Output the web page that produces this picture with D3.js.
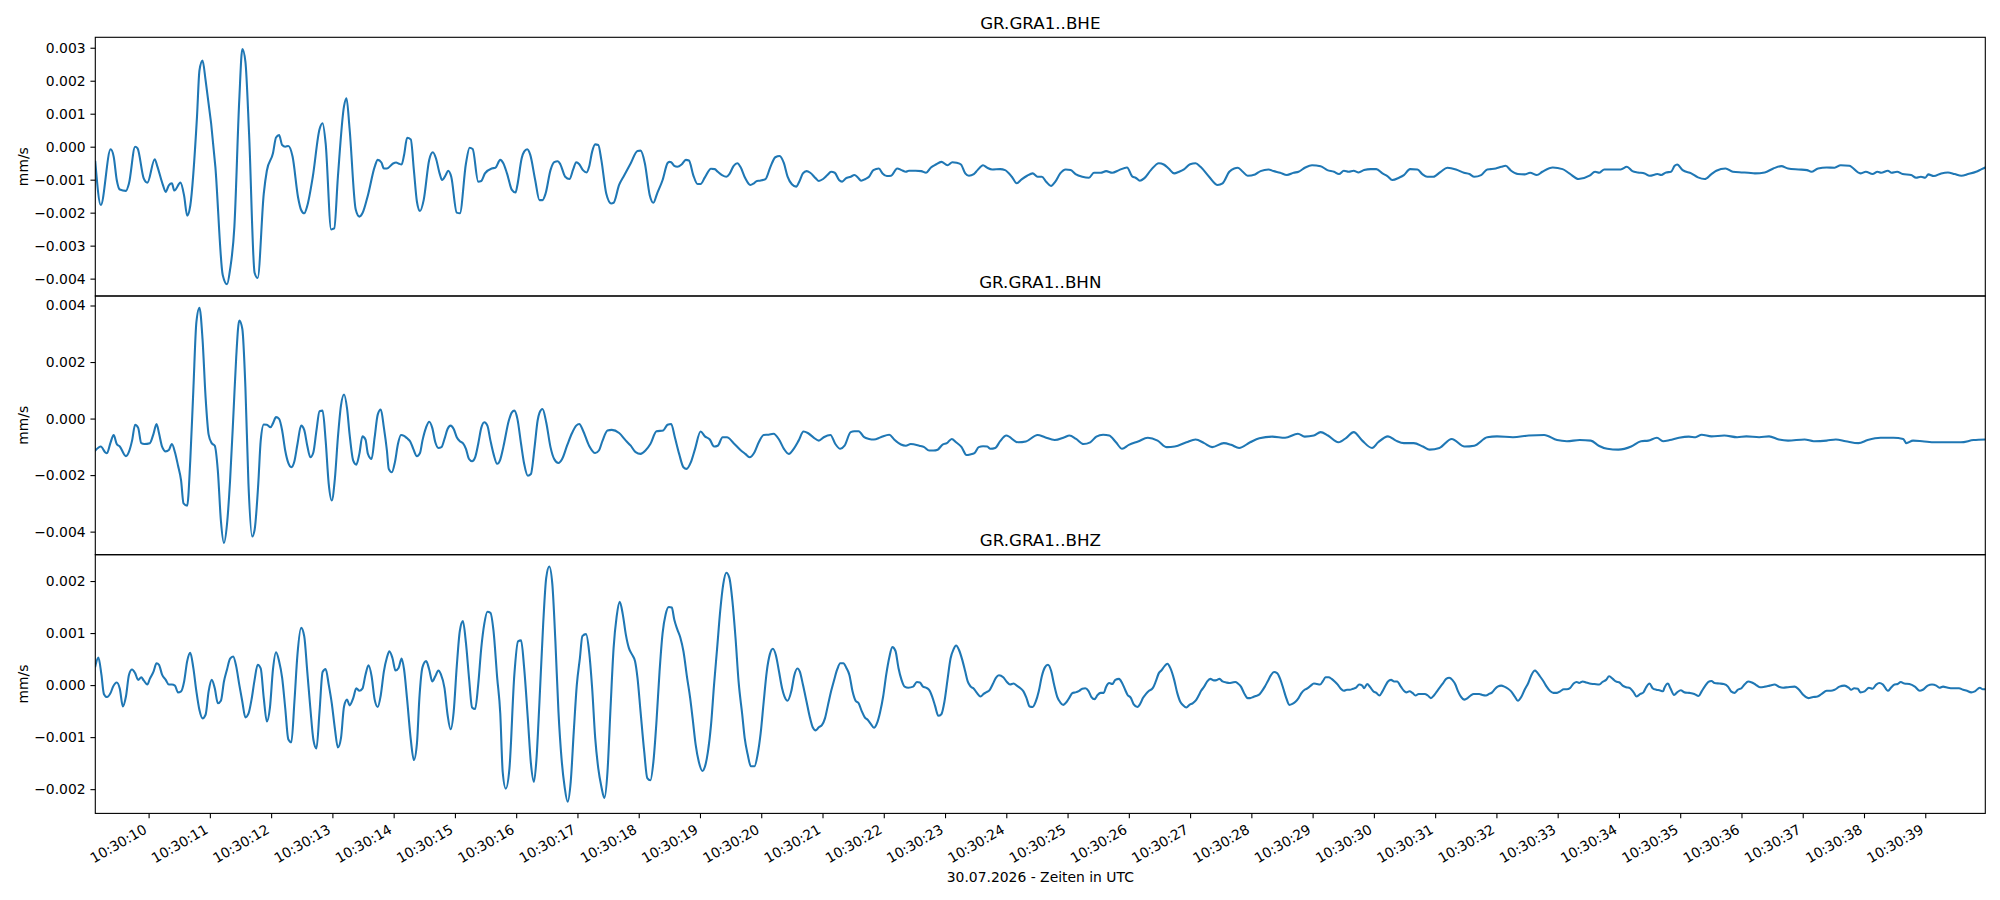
<!DOCTYPE html>
<html>
<head>
<meta charset="utf-8">
<script src="https://cdn.jsdelivr.net/npm/d3@7"></script>
<style>
  html, body { margin: 0; padding: 0; background: #fff; }
  svg { display: block; font-family: "DejaVu Sans", sans-serif; }
</style>
</head>
<body>
<svg id="chart" width="2000" height="900"></svg>
<script>
// ---------------- DATA ----------------
// Trace start: 30.07.2026 10:30:00 UTC; times are seconds after 10:30:00
const dateLabel = "30.07.2026 - Zeiten in UTC";
const channels = ["GR.GRA1..BHE", "GR.GRA1..BHN", "GR.GRA1..BHZ"];
const unitLabel = "mm/s";
const valueUnit = 0.001; // values below are in 0.001 mm/s
const timeStart = 9.13, timeEnd = 39.98;

// BHE: [seconds, value x 0.001 mm/s]
const bhe = [
[9.13,-0.46],[9.22,-1.77],[9.38,-0.08],[9.43,-0.30],[9.48,-1.01],[9.53,-1.30],[9.63,-1.34],[9.68,-1.11],[9.78,0.00],[9.82,-0.05],
[9.92,-0.96],[9.98,-1.09],[10.10,-0.38],[10.14,-0.58],[10.23,-1.14],[10.28,-1.37],[10.33,-1.17],[10.38,-1.11],[10.42,-1.33],[10.52,-1.09],
[10.58,-1.49],[10.63,-2.09],[10.68,-1.79],[10.79,0.91],[10.83,2.31],[10.88,2.61],[10.93,2.02],[11.09,-0.61],[11.21,-3.89],[11.28,-4.17],
[11.33,-3.72],[11.40,-2.43],[11.48,1.42],[11.53,2.96],[11.58,2.58],[11.64,0.40],[11.73,-3.82],[11.78,-3.98],[11.88,-1.42],[11.93,-0.73],
[12.03,-0.20],[12.08,0.28],[12.13,0.35],[12.18,0.05],[12.23,0.00],[12.28,0.02],[12.35,-0.30],[12.44,-1.54],[12.49,-1.92],[12.54,-2.02],
[12.59,-1.79],[12.68,-0.91],[12.79,0.53],[12.84,0.71],[12.89,0.10],[12.98,-2.51],[13.03,-2.48],[13.09,-0.91],[13.19,1.23],[13.23,1.47],
[13.28,0.56],[13.38,-1.90],[13.44,-2.12],[13.49,-2.02],[13.58,-1.47],[13.69,-0.61],[13.74,-0.40],[13.80,-0.48],[13.84,-0.66],[13.89,-0.66],
[13.99,-0.51],[14.04,-0.48],[14.08,-0.51],[14.13,-0.54],[14.17,-0.25],[14.22,0.27],[14.28,0.22],[14.33,-0.71],[14.38,-1.67],[14.43,-1.95],
[14.49,-1.62],[14.58,-0.40],[14.64,-0.17],[14.69,-0.35],[14.75,-0.81],[14.79,-1.01],[14.85,-0.86],[14.89,-0.73],[14.94,-0.91],[15.03,-2.00],
[15.08,-2.02],[15.18,-0.51],[15.24,-0.03],[15.29,-0.07],[15.38,-1.06],[15.43,-1.04],[15.49,-0.81],[15.60,-0.66],[15.66,-0.64],[15.74,-0.40],
[15.79,-0.50],[15.85,-0.81],[15.93,-1.31],[15.99,-1.39],[16.02,-1.16],[16.09,-0.35],[16.13,-0.15],[16.18,-0.08],[16.23,-0.25],[16.31,-1.01],
[16.38,-1.62],[16.43,-1.62],[16.48,-1.42],[16.56,-0.71],[16.62,-0.47],[16.68,-0.44],[16.72,-0.53],[16.80,-0.91],[16.87,-0.98],[16.93,-0.69],
[16.98,-0.47],[17.03,-0.53],[17.09,-0.71],[17.15,-0.78],[17.19,-0.61],[17.24,-0.15],[17.29,0.07],[17.34,0.05],[17.39,-0.40],[17.47,-1.42],
[17.55,-1.72],[17.59,-1.70],[17.68,-1.16],[17.76,-0.88],[17.87,-0.50],[17.98,-0.13],[18.03,-0.12],[18.10,-0.50],[18.18,-1.47],[18.24,-1.70],
[18.30,-1.42],[18.39,-1.01],[18.47,-0.50],[18.50,-0.46],[18.53,-0.47],[18.58,-0.58],[18.63,-0.61],[18.70,-0.54],[18.77,-0.40],[18.82,-0.42],
[18.89,-0.86],[18.96,-1.13],[19.01,-1.13],[19.08,-0.93],[19.18,-0.67],[19.24,-0.68],[19.29,-0.76],[19.36,-0.86],[19.43,-0.91],[19.48,-0.83],
[19.55,-0.58],[19.61,-0.50],[19.66,-0.61],[19.74,-0.96],[19.82,-1.16],[19.88,-1.11],[19.93,-1.04],[19.98,-1.03],[20.07,-0.98],[20.15,-0.61],
[20.23,-0.32],[20.30,-0.28],[20.37,-0.50],[20.43,-0.91],[20.50,-1.14],[20.57,-1.21],[20.62,-1.06],[20.68,-0.81],[20.74,-0.74],[20.80,-0.79],
[20.89,-0.96],[20.94,-1.04],[21.01,-0.98],[21.08,-0.86],[21.14,-0.76],[21.20,-0.79],[21.27,-1.01],[21.32,-1.06],[21.38,-0.96],[21.46,-0.91],
[21.52,-0.86],[21.58,-0.94],[21.63,-1.03],[21.70,-0.98],[21.76,-0.91],[21.83,-0.71],[21.92,-0.66],[21.98,-0.81],[22.05,-0.89],[22.12,-0.88],
[22.22,-0.66],[22.29,-0.71],[22.36,-0.76],[22.41,-0.73],[22.52,-0.73],[22.61,-0.74],[22.69,-0.79],[22.77,-0.63],[22.85,-0.54],[22.94,-0.46],
[23.04,-0.56],[23.12,-0.47],[23.19,-0.49],[23.26,-0.54],[23.33,-0.81],[23.39,-0.88],[23.47,-0.83],[23.53,-0.71],[23.62,-0.56],[23.69,-0.64],
[23.77,-0.69],[23.90,-0.68],[23.98,-0.71],[24.09,-0.91],[24.17,-1.11],[24.25,-0.99],[24.34,-0.88],[24.43,-0.81],[24.51,-0.91],[24.58,-0.91],
[24.65,-1.06],[24.73,-1.19],[24.80,-1.06],[24.88,-0.81],[24.97,-0.69],[25.05,-0.71],[25.13,-0.83],[25.24,-0.91],[25.35,-0.94],[25.43,-0.79],
[25.54,-0.79],[25.63,-0.74],[25.73,-0.79],[25.84,-0.71],[25.97,-0.63],[26.06,-0.91],[26.11,-0.94],[26.18,-1.03],[26.25,-0.96],[26.36,-0.71],
[26.49,-0.50],[26.57,-0.54],[26.65,-0.66],[26.74,-0.81],[26.82,-0.76],[26.90,-0.69],[27.00,-0.53],[27.09,-0.50],[27.17,-0.61],[27.31,-0.91],
[27.45,-1.16],[27.53,-1.11],[27.64,-0.76],[27.72,-0.66],[27.78,-0.64],[27.86,-0.76],[27.94,-0.88],[28.06,-0.84],[28.15,-0.74],[28.28,-0.69],
[28.36,-0.74],[28.47,-0.79],[28.58,-0.86],[28.69,-0.79],[28.77,-0.76],[28.88,-0.63],[28.99,-0.56],[29.13,-0.59],[29.24,-0.71],[29.35,-0.76],
[29.43,-0.83],[29.51,-0.73],[29.59,-0.76],[29.67,-0.73],[29.75,-0.78],[29.84,-0.71],[29.95,-0.68],[30.04,-0.68],[30.14,-0.81],[30.22,-0.89],
[30.30,-1.01],[30.41,-0.94],[30.49,-0.86],[30.59,-0.68],[30.71,-0.69],[30.79,-0.83],[30.87,-0.91],[30.97,-0.91],[31.09,-0.76],[31.20,-0.64],
[31.34,-0.69],[31.47,-0.79],[31.56,-0.83],[31.64,-0.91],[31.75,-0.86],[31.85,-0.69],[31.91,-0.68],[31.99,-0.66],[32.08,-0.61],[32.15,-0.58],
[32.24,-0.73],[32.35,-0.83],[32.46,-0.84],[32.55,-0.79],[32.66,-0.86],[32.75,-0.76],[32.92,-0.63],[33.08,-0.68],[33.19,-0.81],[33.34,-0.98],
[33.52,-0.88],[33.61,-0.76],[33.68,-0.79],[33.76,-0.69],[33.87,-0.69],[34.03,-0.69],[34.13,-0.61],[34.22,-0.74],[34.31,-0.78],[34.42,-0.81],
[34.50,-0.88],[34.63,-0.83],[34.69,-0.86],[34.77,-0.78],[34.85,-0.76],[34.91,-0.58],[34.95,-0.54],[35.04,-0.71],[35.18,-0.81],[35.29,-0.93],
[35.40,-0.98],[35.51,-0.83],[35.59,-0.73],[35.74,-0.66],[35.86,-0.76],[36.00,-0.78],[36.11,-0.79],[36.22,-0.81],[36.38,-0.78],[36.52,-0.66],
[36.65,-0.59],[36.76,-0.66],[36.93,-0.69],[37.07,-0.71],[37.14,-0.76],[37.25,-0.66],[37.39,-0.63],[37.52,-0.64],[37.62,-0.56],[37.76,-0.58],
[37.94,-0.81],[38.03,-0.76],[38.14,-0.83],[38.22,-0.76],[38.28,-0.79],[38.39,-0.73],[38.45,-0.79],[38.54,-0.76],[38.63,-0.83],[38.77,-0.86],
[38.85,-0.94],[38.93,-0.91],[39.00,-0.94],[39.05,-0.84],[39.14,-0.89],[39.26,-0.81],[39.37,-0.78],[39.48,-0.83],[39.59,-0.88],[39.70,-0.83],
[39.83,-0.76],[39.92,-0.68],[39.98,-0.63]
];

// BHN: [seconds, value x 0.001 mm/s]
const bhn = [
[9.13,-1.13],[9.22,-0.99],[9.29,-1.19],[9.32,-1.23],[9.38,-0.84],[9.43,-0.58],[9.48,-0.90],[9.53,-0.99],[9.63,-1.33],[9.68,-1.17],
[9.73,-0.78],[9.78,-0.22],[9.83,-0.33],[9.88,-0.87],[9.93,-0.90],[10.02,-0.87],[10.08,-0.54],[10.13,-0.19],[10.17,-0.52],[10.22,-0.99],
[10.28,-1.16],[10.33,-1.11],[10.38,-0.90],[10.43,-1.19],[10.48,-1.66],[10.53,-2.19],[10.57,-3.00],[10.63,-3.08],[10.68,-1.49],[10.73,0.99],
[10.78,3.41],[10.83,3.92],[10.88,2.82],[10.93,0.76],[10.98,-0.57],[11.03,-0.87],[11.08,-0.96],[11.13,-1.84],[11.18,-3.61],[11.23,-4.40],
[11.28,-3.73],[11.33,-2.19],[11.39,0.40],[11.43,2.17],[11.48,3.47],[11.53,3.17],[11.58,1.11],[11.63,-2.31],[11.69,-4.17],[11.73,-3.94],
[11.79,-2.31],[11.83,-0.78],[11.88,-0.21],[11.93,-0.22],[11.99,-0.31],[12.03,-0.17],[12.08,0.05],[12.13,-0.01],[12.18,-0.42],[12.23,-1.13],
[12.28,-1.57],[12.33,-1.72],[12.38,-1.51],[12.43,-0.90],[12.49,-0.25],[12.54,-0.40],[12.59,-0.96],[12.64,-1.37],[12.69,-1.19],[12.74,-0.42],
[12.79,0.26],[12.84,0.28],[12.89,-0.78],[12.94,-2.31],[12.99,-2.90],[13.04,-2.14],[13.09,-0.66],[13.14,0.46],[13.19,0.85],[13.24,0.34],
[13.28,-0.54],[13.34,-1.49],[13.39,-1.63],[13.44,-1.25],[13.49,-0.63],[13.54,-0.74],[13.58,-1.25],[13.64,-1.43],[13.69,-0.66],[13.74,0.14],
[13.79,0.32],[13.84,-0.31],[13.89,-1.13],[13.92,-1.78],[13.97,-1.90],[14.02,-1.55],[14.07,-0.90],[14.12,-0.58],[14.17,-0.61],[14.22,-0.70],
[14.27,-0.81],[14.32,-1.07],[14.38,-1.33],[14.43,-1.22],[14.47,-0.78],[14.53,-0.31],[14.58,-0.11],[14.63,-0.33],[14.68,-0.84],[14.73,-1.04],
[14.78,-1.01],[14.83,-0.72],[14.88,-0.37],[14.93,-0.25],[14.98,-0.37],[15.03,-0.66],[15.08,-0.80],[15.13,-0.87],[15.18,-1.07],[15.23,-1.43],
[15.28,-1.51],[15.33,-1.37],[15.38,-0.90],[15.43,-0.33],[15.48,-0.13],[15.53,-0.25],[15.58,-0.78],[15.63,-1.25],[15.69,-1.60],[15.74,-1.45],
[15.79,-1.01],[15.88,-0.07],[15.93,0.22],[15.97,0.28],[16.02,-0.01],[16.08,-0.90],[16.13,-1.60],[16.19,-2.02],[16.24,-1.96],[16.30,-1.01],
[16.35,-0.07],[16.38,0.20],[16.43,0.34],[16.49,-0.13],[16.56,-1.01],[16.62,-1.43],[16.69,-1.57],[16.75,-1.43],[16.83,-0.96],[16.91,-0.52],
[16.98,-0.25],[17.03,-0.19],[17.09,-0.42],[17.19,-0.96],[17.29,-1.22],[17.35,-1.13],[17.41,-0.78],[17.49,-0.42],[17.56,-0.40],[17.68,-0.51],
[17.79,-0.78],[17.87,-0.96],[17.95,-1.19],[18.03,-1.25],[18.11,-1.13],[18.19,-0.90],[18.29,-0.45],[18.40,-0.42],[18.47,-0.22],[18.53,-0.19],
[18.59,-0.66],[18.66,-1.25],[18.73,-1.72],[18.78,-1.78],[18.85,-1.55],[18.92,-1.07],[19.01,-0.46],[19.08,-0.63],[19.16,-0.74],[19.23,-0.99],
[19.29,-0.96],[19.37,-0.66],[19.44,-0.66],[19.55,-0.87],[19.66,-1.11],[19.74,-1.25],[19.81,-1.37],[19.89,-1.19],[19.96,-0.84],[20.04,-0.58],
[20.12,-0.57],[20.20,-0.54],[20.29,-0.74],[20.37,-1.07],[20.45,-1.25],[20.53,-1.07],[20.61,-0.78],[20.69,-0.46],[20.76,-0.51],[20.86,-0.68],
[20.94,-0.78],[21.02,-0.66],[21.13,-0.58],[21.21,-0.90],[21.29,-1.07],[21.36,-0.96],[21.46,-0.48],[21.52,-0.45],[21.59,-0.45],[21.68,-0.66],
[21.76,-0.72],[21.84,-0.74],[21.95,-0.66],[22.09,-0.57],[22.17,-0.74],[22.28,-0.92],[22.36,-0.96],[22.44,-0.90],[22.58,-0.96],[22.66,-1.01],
[22.74,-1.13],[22.81,-1.13],[22.88,-1.10],[22.96,-0.92],[23.03,-0.87],[23.11,-0.72],[23.18,-0.84],[23.27,-1.01],[23.35,-1.29],[23.41,-1.27],
[23.48,-1.22],[23.55,-1.01],[23.62,-0.98],[23.69,-0.99],[23.74,-1.07],[23.82,-1.04],[23.90,-0.80],[24.00,-0.60],[24.19,-0.84],[24.32,-0.81],
[24.51,-0.58],[24.63,-0.66],[24.79,-0.76],[24.95,-0.66],[25.03,-0.60],[25.14,-0.72],[25.26,-0.90],[25.37,-0.84],[25.47,-0.64],[25.58,-0.57],
[25.68,-0.60],[25.79,-0.84],[25.89,-1.07],[26.00,-0.93],[26.15,-0.81],[26.31,-0.68],[26.47,-0.78],[26.62,-1.01],[26.75,-0.99],[26.94,-0.84],
[27.09,-0.74],[27.23,-0.87],[27.36,-1.01],[27.55,-0.87],[27.67,-0.93],[27.80,-1.04],[27.98,-0.84],[28.13,-0.70],[28.34,-0.64],[28.55,-0.68],
[28.76,-0.54],[28.87,-0.64],[29.02,-0.60],[29.13,-0.48],[29.25,-0.60],[29.42,-0.84],[29.55,-0.68],[29.67,-0.48],[29.81,-0.78],[29.97,-1.04],
[30.07,-0.84],[30.23,-0.63],[30.36,-0.78],[30.49,-0.87],[30.65,-0.87],[30.80,-0.99],[30.91,-1.10],[31.07,-1.04],[31.27,-0.72],[31.48,-0.99],
[31.64,-0.96],[31.85,-0.66],[32.01,-0.63],[32.27,-0.66],[32.53,-0.60],[32.78,-0.58],[32.99,-0.76],[33.15,-0.80],[33.36,-0.76],[33.54,-0.78],
[33.67,-0.96],[33.81,-1.07],[33.99,-1.10],[34.20,-0.99],[34.36,-0.80],[34.48,-0.78],[34.62,-0.68],[34.72,-0.80],[34.83,-0.76],[34.98,-0.68],
[35.14,-0.64],[35.25,-0.66],[35.35,-0.57],[35.51,-0.63],[35.72,-0.60],[35.93,-0.66],[36.08,-0.63],[36.29,-0.66],[36.45,-0.63],[36.61,-0.74],
[36.76,-0.78],[37.03,-0.74],[37.18,-0.80],[37.39,-0.78],[37.54,-0.74],[37.70,-0.80],[37.91,-0.87],[38.06,-0.76],[38.27,-0.68],[38.48,-0.68],
[38.64,-0.72],[38.69,-0.87],[38.80,-0.78],[38.95,-0.80],[39.16,-0.84],[39.37,-0.84],[39.58,-0.84],[39.79,-0.76],[39.98,-0.74]
];

// BHZ: [seconds, value x 0.001 mm/s]
const bhz = [
[9.13,0.36],[9.18,0.53],[9.23,0.20],[9.27,-0.17],[9.32,-0.23],[9.38,-0.15],[9.42,-0.03],[9.48,0.05],[9.53,-0.07],[9.58,-0.41],
[9.63,-0.22],[9.68,0.20],[9.73,0.30],[9.78,0.23],[9.83,0.10],[9.88,0.15],[9.92,0.09],[9.98,0.01],[10.02,0.12],[10.08,0.26],
[10.13,0.42],[10.17,0.39],[10.22,0.20],[10.28,0.10],[10.33,0.01],[10.38,0.01],[10.43,-0.01],[10.48,-0.14],[10.53,-0.12],[10.58,0.07],
[10.63,0.46],[10.68,0.62],[10.73,0.33],[10.78,-0.12],[10.83,-0.48],[10.88,-0.64],[10.93,-0.57],[10.98,-0.12],[11.03,0.10],[11.08,-0.06],
[11.13,-0.35],[11.18,-0.30],[11.23,0.07],[11.28,0.30],[11.33,0.51],[11.38,0.55],[11.43,0.36],[11.48,0.01],[11.53,-0.32],[11.58,-0.62],
[11.63,-0.55],[11.68,-0.28],[11.73,0.10],[11.78,0.39],[11.83,0.32],[11.88,-0.25],[11.93,-0.70],[11.98,-0.44],[12.03,0.30],[12.08,0.63],
[12.13,0.46],[12.18,0.14],[12.23,-0.44],[12.28,-1.04],[12.33,-1.10],[12.38,-0.32],[12.43,0.59],[12.49,1.10],[12.54,0.94],[12.59,0.26],
[12.64,-0.44],[12.69,-1.05],[12.74,-1.22],[12.79,-0.51],[12.84,0.25],[12.89,0.31],[12.94,0.01],[12.99,-0.35],[13.04,-0.83],[13.09,-1.20],
[13.14,-1.02],[13.19,-0.41],[13.24,-0.28],[13.28,-0.39],[13.34,-0.25],[13.39,-0.06],[13.44,-0.11],[13.49,-0.07],[13.54,0.20],[13.59,0.38],
[13.64,0.17],[13.69,-0.28],[13.74,-0.42],[13.79,-0.19],[13.84,0.26],[13.89,0.53],[13.93,0.65],[13.98,0.52],[14.03,0.28],[14.08,0.33],
[14.13,0.51],[14.17,0.30],[14.22,-0.28],[14.28,-1.05],[14.33,-1.44],[14.38,-1.12],[14.42,-0.25],[14.47,0.34],[14.53,0.46],[14.58,0.30],
[14.63,0.07],[14.68,0.17],[14.73,0.28],[14.77,0.21],[14.83,-0.06],[14.88,-0.57],[14.93,-0.85],[14.98,-0.51],[15.03,0.36],[15.08,1.04],
[15.13,1.23],[15.18,0.81],[15.23,0.14],[15.28,-0.43],[15.33,-0.46],[15.38,0.01],[15.43,0.71],[15.48,1.18],[15.53,1.41],[15.58,1.39],
[15.63,1.04],[15.69,0.14],[15.74,-0.54],[15.78,-1.67],[15.83,-1.99],[15.89,-1.60],[15.97,0.20],[16.03,0.84],[16.08,0.86],[16.13,0.33],
[16.19,-0.64],[16.24,-1.50],[16.29,-1.86],[16.33,-1.44],[16.38,-0.32],[16.44,1.16],[16.49,2.06],[16.54,2.28],[16.59,1.94],[16.64,0.84],
[16.69,-0.51],[16.74,-1.41],[16.79,-1.95],[16.84,-2.24],[16.89,-1.86],[16.94,-0.89],[16.99,0.01],[17.04,0.52],[17.08,0.94],[17.14,0.98],
[17.19,0.65],[17.24,-0.06],[17.29,-1.02],[17.34,-1.60],[17.39,-1.95],[17.44,-2.17],[17.49,-1.67],[17.54,-0.44],[17.59,0.71],[17.64,1.32],
[17.69,1.60],[17.74,1.36],[17.79,0.97],[17.84,0.71],[17.89,0.59],[17.94,0.46],[17.98,0.14],[18.03,-0.51],[18.09,-1.28],[18.14,-1.79],
[18.19,-1.83],[18.24,-1.47],[18.29,-0.70],[18.34,0.26],[18.39,1.00],[18.44,1.36],[18.49,1.50],[18.54,1.49],[18.58,1.26],[18.63,1.07],
[18.68,0.91],[18.73,0.65],[18.79,0.14],[18.84,-0.25],[18.88,-0.64],[18.93,-1.15],[18.98,-1.47],[19.04,-1.65],[19.08,-1.57],[19.13,-1.28],
[19.18,-0.77],[19.23,0.01],[19.28,0.71],[19.33,1.42],[19.38,1.94],[19.43,2.16],[19.48,2.06],[19.53,1.61],[19.58,0.91],[19.63,0.07],
[19.69,-0.57],[19.73,-1.02],[19.78,-1.34],[19.83,-1.56],[19.89,-1.56],[19.94,-1.34],[19.99,-0.93],[20.04,-0.32],[20.09,0.26],[20.14,0.59],
[20.19,0.70],[20.24,0.57],[20.29,0.26],[20.34,-0.06],[20.38,-0.22],[20.43,-0.30],[20.49,-0.12],[20.54,0.19],[20.59,0.32],[20.63,0.26],
[20.68,0.01],[20.74,-0.32],[20.79,-0.60],[20.84,-0.81],[20.89,-0.87],[20.94,-0.81],[20.99,-0.77],[21.04,-0.64],[21.09,-0.38],[21.14,-0.12],
[21.19,0.10],[21.24,0.30],[21.29,0.42],[21.34,0.42],[21.39,0.33],[21.44,0.19],[21.49,-0.12],[21.54,-0.30],[21.59,-0.35],[21.64,-0.50],
[21.69,-0.62],[21.74,-0.67],[21.79,-0.75],[21.84,-0.82],[21.89,-0.73],[21.94,-0.52],[21.99,-0.22],[22.04,0.20],[22.09,0.53],[22.14,0.73],
[22.19,0.66],[22.24,0.33],[22.29,0.10],[22.34,-0.03],[22.40,-0.05],[22.48,-0.03],[22.54,0.06],[22.59,0.05],[22.64,-0.03],[22.69,-0.05],
[22.74,-0.09],[22.79,-0.22],[22.84,-0.41],[22.89,-0.59],[22.94,-0.56],[22.99,-0.32],[23.04,0.10],[23.09,0.51],[23.14,0.69],[23.18,0.76],
[23.23,0.67],[23.28,0.49],[23.33,0.26],[23.37,0.07],[23.42,-0.03],[23.47,-0.07],[23.52,-0.15],[23.58,-0.22],[23.63,-0.17],[23.67,-0.14],
[23.73,-0.09],[23.78,0.02],[23.83,0.14],[23.88,0.19],[23.95,0.15],[24.01,0.06],[24.06,0.01],[24.12,0.03],[24.17,-0.01],[24.23,-0.06],
[24.28,-0.12],[24.33,-0.25],[24.38,-0.41],[24.43,-0.42],[24.48,-0.32],[24.53,-0.12],[24.58,0.17],[24.63,0.34],[24.68,0.39],[24.73,0.28],
[24.78,0.01],[24.83,-0.22],[24.88,-0.33],[24.93,-0.38],[24.98,-0.33],[25.03,-0.24],[25.08,-0.15],[25.13,-0.14],[25.19,-0.11],[25.24,-0.07],
[25.29,-0.06],[25.34,-0.11],[25.39,-0.23],[25.44,-0.27],[25.49,-0.19],[25.54,-0.15],[25.59,-0.15],[25.63,-0.03],[25.68,0.04],[25.73,0.02],
[25.78,0.10],[25.84,0.12],[25.89,0.04],[25.94,-0.09],[25.98,-0.19],[26.03,-0.24],[26.08,-0.37],[26.14,-0.42],[26.19,-0.35],[26.23,-0.25],
[26.28,-0.17],[26.33,-0.11],[26.39,-0.06],[26.44,0.07],[26.49,0.23],[26.53,0.28],[26.58,0.36],[26.63,0.41],[26.68,0.32],[26.74,0.10],
[26.79,-0.15],[26.84,-0.32],[26.88,-0.38],[26.94,-0.43],[26.99,-0.38],[27.04,-0.35],[27.09,-0.30],[27.14,-0.20],[27.18,-0.11],[27.23,-0.03],
[27.28,0.07],[27.33,0.12],[27.39,0.09],[27.44,0.10],[27.48,0.12],[27.53,0.07],[27.59,0.05],[27.64,0.04],[27.69,0.05],[27.74,0.06],
[27.78,0.03],[27.83,-0.03],[27.88,-0.15],[27.94,-0.25],[27.98,-0.25],[28.03,-0.23],[28.07,-0.21],[28.12,-0.19],[28.17,-0.12],[28.22,-0.03],
[28.27,0.08],[28.32,0.19],[28.37,0.25],[28.42,0.23],[28.47,0.12],[28.52,-0.06],[28.57,-0.25],[28.62,-0.38],[28.67,-0.36],[28.72,-0.32],
[28.77,-0.25],[28.82,-0.15],[28.87,-0.09],[28.92,-0.06],[28.97,-0.01],[29.02,0.03],[29.07,0.02],[29.12,0.01],[29.17,0.08],[29.21,0.15],
[29.26,0.15],[29.31,0.12],[29.36,0.07],[29.41,0.01],[29.46,-0.07],[29.51,-0.11],[29.56,-0.09],[29.61,-0.09],[29.66,-0.07],[29.71,-0.05],
[29.76,0.01],[29.81,-0.01],[29.84,-0.06],[29.89,0.02],[29.94,-0.04],[29.99,-0.12],[30.04,-0.15],[30.09,-0.20],[30.14,-0.12],[30.19,-0.01],
[30.23,0.07],[30.28,0.10],[30.33,0.07],[30.38,0.07],[30.44,-0.03],[30.49,-0.11],[30.53,-0.14],[30.58,-0.12],[30.63,-0.15],[30.68,-0.20],
[30.73,-0.17],[30.78,-0.17],[30.83,-0.17],[30.88,-0.20],[30.93,-0.25],[30.98,-0.20],[31.03,-0.12],[31.08,-0.04],[31.13,0.04],[31.18,0.12],
[31.23,0.14],[31.28,0.10],[31.33,0.01],[31.37,-0.11],[31.42,-0.22],[31.48,-0.28],[31.53,-0.25],[31.58,-0.20],[31.63,-0.17],[31.68,-0.17],
[31.72,-0.17],[31.77,-0.19],[31.83,-0.20],[31.88,-0.17],[31.93,-0.14],[31.98,-0.07],[32.02,-0.03],[32.08,-0.01],[32.13,-0.03],[32.19,-0.07],
[32.24,-0.12],[32.30,-0.22],[32.35,-0.30],[32.41,-0.22],[32.46,-0.09],[32.52,0.04],[32.57,0.19],[32.63,0.28],[32.66,0.25],[32.71,0.17],
[32.77,0.07],[32.82,-0.03],[32.88,-0.12],[32.93,-0.15],[32.99,-0.15],[33.04,-0.12],[33.10,-0.08],[33.15,-0.08],[33.20,-0.06],[33.26,0.03],
[33.31,0.06],[33.35,0.04],[33.41,0.07],[33.46,0.05],[33.52,0.03],[33.60,0.02],[33.68,0.01],[33.73,0.06],[33.79,0.10],[33.84,0.17],
[33.90,0.12],[33.95,0.07],[34.01,0.05],[34.06,-0.01],[34.12,-0.04],[34.18,-0.06],[34.24,-0.14],[34.29,-0.22],[34.35,-0.17],[34.40,-0.14],
[34.44,-0.05],[34.50,0.03],[34.55,-0.06],[34.61,-0.09],[34.66,-0.10],[34.72,-0.12],[34.74,-0.06],[34.80,0.03],[34.84,-0.06],[34.90,-0.19],
[34.95,-0.14],[35.01,-0.10],[35.07,-0.14],[35.15,-0.15],[35.23,-0.17],[35.30,-0.21],[35.35,-0.12],[35.41,-0.01],[35.46,0.06],[35.51,0.08],
[35.56,0.04],[35.64,0.03],[35.71,0.02],[35.78,-0.03],[35.83,-0.12],[35.89,-0.15],[35.94,-0.09],[36.00,-0.06],[36.05,0.01],[36.11,0.07],
[36.17,0.05],[36.23,0.01],[36.30,-0.04],[36.38,-0.03],[36.46,-0.01],[36.54,0.01],[36.61,-0.03],[36.68,-0.05],[36.76,-0.04],[36.87,-0.03],
[36.94,-0.09],[37.01,-0.19],[37.09,-0.25],[37.17,-0.23],[37.24,-0.22],[37.31,-0.17],[37.39,-0.11],[37.46,-0.11],[37.52,-0.09],[37.60,-0.03],
[37.68,-0.01],[37.75,-0.05],[37.79,-0.09],[37.84,-0.06],[37.90,-0.07],[37.94,-0.14],[38.01,-0.12],[38.08,-0.05],[38.14,-0.07],[38.20,0.01],
[38.25,0.04],[38.31,0.01],[38.39,-0.11],[38.44,-0.05],[38.50,0.01],[38.55,0.02],[38.60,0.06],[38.66,0.03],[38.74,0.02],[38.83,-0.03],
[38.91,-0.11],[38.96,-0.09],[39.04,-0.01],[39.11,0.01],[39.18,-0.01],[39.23,-0.05],[39.29,-0.03],[39.37,-0.05],[39.45,-0.06],[39.55,-0.06],
[39.62,-0.09],[39.68,-0.11],[39.75,-0.14],[39.81,-0.12],[39.89,-0.05],[39.94,-0.08],[39.98,-0.08]
];

const series = [bhe, bhn, bhz];
// y-axis tick values per panel (mm/s)
const yTicksBHE = [-0.004, -0.003, -0.002, -0.001, 0.000, 0.001, 0.002, 0.003];
const yTicksBHN = [-0.004, -0.002, 0.000, 0.002, 0.004];
const yTicksBHZ = [-0.002, -0.001, 0.000, 0.001, 0.002];
const yTicks = [yTicksBHE, yTicksBHN, yTicksBHZ];

// ---------------- LAYOUT ----------------
const W = 2000, H = 900;
const left = 95.3, right = 1985.3;
const top0 = 37.3, panelH = 258.7;
const lineColor = "#1f77b4";
const tickFont = 13.9, titleFont = 16.7;
const tickLen = 4.86, tickPad = 4.86;

const svg = d3.select("#chart");
svg.append("rect").attr("width", W).attr("height", H).attr("fill", "#fff");

const base = Date.UTC(2026, 6, 30, 10, 30, 0);
const toDate = s => new Date(base + s * 1000);

const x = d3.scaleUtc()
  .domain([toDate(timeStart), toDate(timeEnd)])
  .range([left, right]);

const fmtY = d3.format(".3f");

series.forEach((data, i) => {
  const top = top0 + i * panelH;
  const bottom = top + panelH;
  const vals = data.map(d => d[1] * valueUnit);
  const [mn, mx] = d3.extent(vals);
  const pad = (mx - mn) * 0.05;
  const y = d3.scaleLinear().domain([mn - pad, mx + pad]).range([bottom, top]);

  const g = svg.append("g");

  // clip
  const clipId = "clip" + i;
  svg.append("clipPath").attr("id", clipId)
    .append("rect").attr("x", left).attr("y", top).attr("width", right - left).attr("height", panelH);

  const line = d3.line()
    .x(d => x(toDate(d[0])))
    .y(d => y(d[1] * valueUnit))
    .curve(d3.curveMonotoneX);

  g.append("path")
    .datum(data)
    .attr("clip-path", `url(#${clipId})`)
    .attr("fill", "none")
    .attr("stroke", lineColor)
    .attr("stroke-width", 2.08)
    .attr("stroke-linejoin", "round")
    .attr("stroke-linecap", "square")
    .attr("d", line);

  // y axis
  const yAxis = d3.axisLeft(y)
    .tickValues(yTicks[i])
    .tickFormat(fmtY)
    .tickSize(tickLen)
    .tickPadding(tickPad);
  const ya = g.append("g").attr("transform", `translate(${left},0)`).call(yAxis);
  ya.select(".domain").remove();
  ya.selectAll(".tick line").attr("stroke", "#000").attr("stroke-width", 1.1);
  ya.selectAll(".tick text")
    .attr("font-family", "DejaVu Sans")
    .attr("font-size", tickFont)
    .attr("fill", "#000");

  // frame
  g.append("rect")
    .attr("x", left).attr("y", top)
    .attr("width", right - left).attr("height", panelH)
    .attr("fill", "none").attr("stroke", "#000").attr("stroke-width", 1.1);

  // title
  svg.append("text")
    .attr("x", (left + right) / 2)
    .attr("y", top - 8.3)
    .attr("text-anchor", "middle")
    .attr("font-family", "DejaVu Sans")
    .attr("font-size", titleFont)
    .attr("fill", "#000")
    .text(channels[i]);

  // y label
  svg.append("text")
    .attr("transform", `translate(27.5,${top + panelH / 2}) rotate(-90)`)
    .attr("text-anchor", "middle")
    .attr("font-family", "DejaVu Sans")
    .attr("font-size", tickFont)
    .attr("fill", "#000")
    .text(unitLabel);

  // x axis on bottom panel only
  if (i === series.length - 1) {
    const xAxis = d3.axisBottom(x)
      .ticks(d3.utcSecond.every(1))
      .tickFormat(d3.utcFormat("%H:%M:%S"))
      .tickSize(tickLen)
      .tickPadding(tickPad);
    const xa = g.append("g").attr("transform", `translate(0,${bottom})`).call(xAxis);
    xa.select(".domain").remove();
    xa.selectAll(".tick line").attr("stroke", "#000").attr("stroke-width", 1.1);
    xa.selectAll(".tick text")
      .attr("font-family", "DejaVu Sans")
      .attr("font-size", tickFont)
      .attr("fill", "#000")
      .attr("text-anchor", "end")
      .attr("y", null).attr("dy", null)
      .attr("transform", `translate(-6.5,${tickLen + tickPad}) rotate(-30)`)
      .attr("dy", "0.76em");

    svg.append("text")
      .attr("x", (left + right) / 2)
      .attr("y", 882)
      .attr("text-anchor", "middle")
      .attr("font-family", "DejaVu Sans")
      .attr("font-size", tickFont)
      .attr("fill", "#000")
      .text(dateLabel);
  }
});
</script>
</body>
</html>
